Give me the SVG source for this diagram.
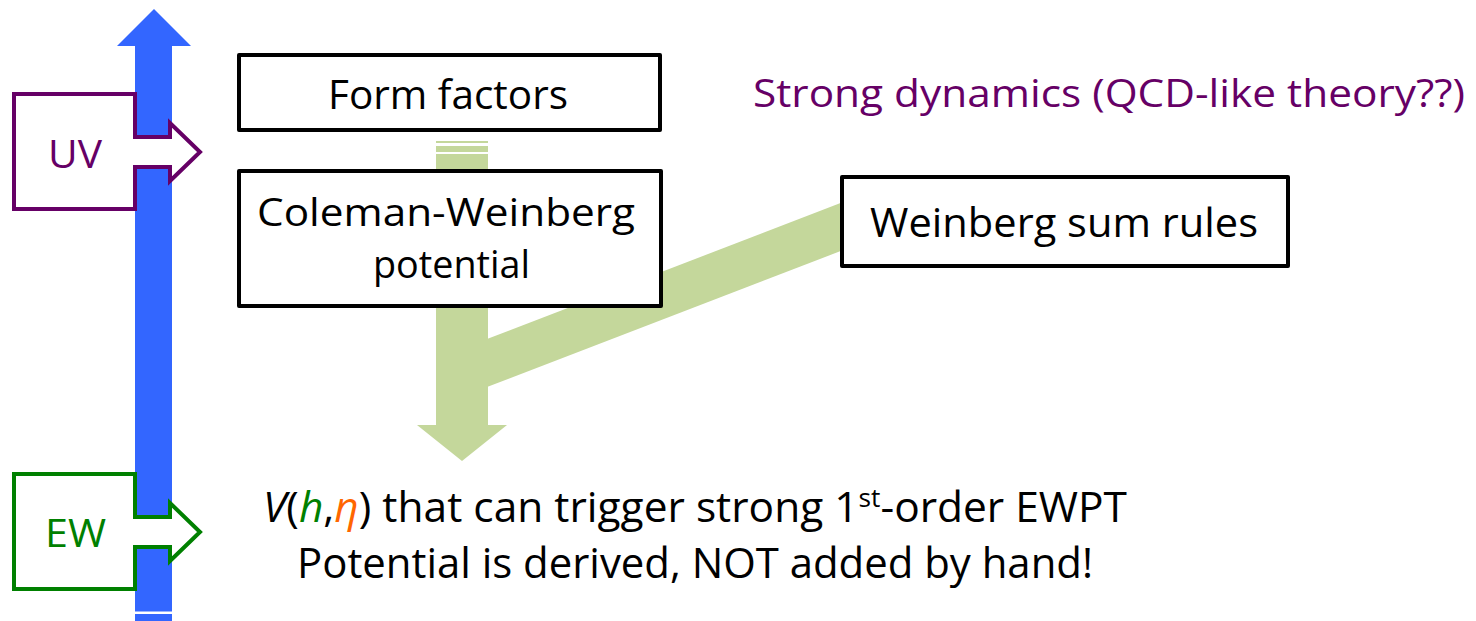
<svg xmlns="http://www.w3.org/2000/svg" width="1476" height="621" viewBox="0 0 1476 621">
  <style>
    .lbl { font-family: "Open Sans", "Noto Sans", "Liberation Sans", sans-serif; fill: #000; }
    .box { fill: #fff; stroke: #000; stroke-width: 4; stroke-linejoin: round; }
    .flow { fill: #c4d79b; }
    .uv { fill: #fff; stroke: #660066; stroke-width: 4; stroke-linejoin: miter; }
    .ew { fill: #fff; stroke: #008000; stroke-width: 4; stroke-linejoin: miter; }
  </style>

  <!-- energy-scale axis -->
  <g id="axis">
    <path d="M135,621 V46 H117 L154,9 L191,46 H172 V621 Z" fill="#3366ff"/>
    <rect x="133" y="611.5" width="42" height="2.5" fill="#fff"/>
  </g>

  <!-- flow arrows -->
  <g id="connectors">
    <!-- striped down arrow from form factors through CW potential -->
    <rect class="flow" x="436" y="141" width="52" height="2"/>
    <rect class="flow" x="436" y="146" width="52" height="6"/>
    <rect class="flow" x="436" y="154" width="52" height="272"/>
    <polygon class="flow" points="417,425 507,425 462,461"/>
    <!-- band joining the sum rules into the arrow -->
    <polygon class="flow" points="487,339 487,387 860,243.6 860,195.6"/>
  </g>

  <!-- scale callouts -->
  <g id="uv">
    <path class="uv" d="M14,94 H135 V137 H170 V123 L200,152 L170,181 V167 H135 V209 H14 Z"/>
    <text class="lbl" x="48" y="168" font-size="39" textLength="54" lengthAdjust="spacingAndGlyphs" style="fill:#660066">UV</text>
  </g>
  <g id="ew">
    <path class="ew" d="M14,474 H135 V517 H170 V503 L200,532 L170,561 V547 H135 V589 H14 Z"/>
    <text class="lbl" x="45" y="547" font-size="39" textLength="61" lengthAdjust="spacingAndGlyphs" style="fill:#008000">EW</text>
  </g>

  <g id="form-factors">
    <rect class="box" x="239" y="55" width="421" height="75"/>
    <text class="lbl" x="328" y="109" font-size="41" textLength="240" lengthAdjust="spacingAndGlyphs">Form factors</text>
  </g>

  <g id="cw-potential">
    <rect class="box" x="239" y="171" width="422" height="135"/>
    <text class="lbl" x="257" y="226" font-size="38" textLength="378" lengthAdjust="spacingAndGlyphs">Coleman-Weinberg</text>
    <text class="lbl" x="373" y="278" font-size="38" textLength="157" lengthAdjust="spacingAndGlyphs">potential</text>
  </g>

  <g id="sum-rules">
    <rect class="box" x="842" y="177" width="446" height="89"/>
    <text class="lbl" x="870" y="237" font-size="41" textLength="388" lengthAdjust="spacingAndGlyphs">Weinberg sum rules</text>
  </g>

  <g id="strong-dynamics">
    <text class="lbl" x="753" y="107" font-size="39" textLength="712" lengthAdjust="spacingAndGlyphs" style="fill:#660066">Strong dynamics (QCD-like theory??)</text>
  </g>

  <g id="potential-result">
    <text class="lbl" x="263" y="522" font-size="42" textLength="864" lengthAdjust="spacingAndGlyphs"><tspan font-style="italic">V</tspan>(<tspan font-style="italic" style="fill:#008000">h</tspan>,<tspan font-style="italic" style="fill:#ff6600">η</tspan>) that can trigger strong 1<tspan font-size="26" dy="-15">st</tspan><tspan dy="15">-order EWPT</tspan></text>
    <text class="lbl" x="297" y="578" font-size="42" textLength="796" lengthAdjust="spacingAndGlyphs">Potential is derived, NOT added by hand!</text>
  </g>
</svg>
